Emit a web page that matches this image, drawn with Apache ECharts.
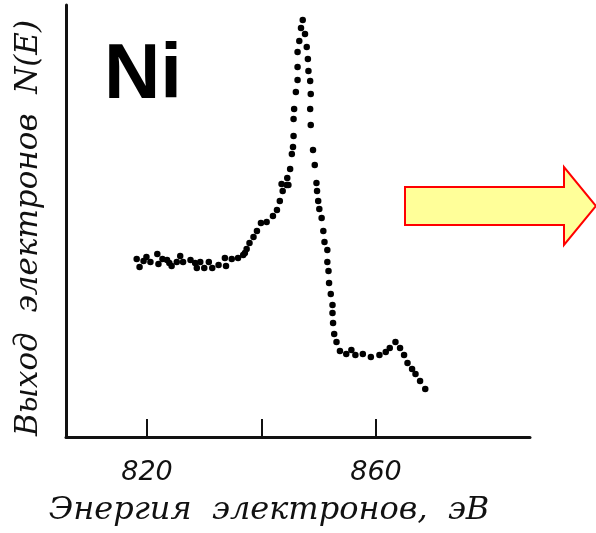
<!DOCTYPE html>
<html>
<head>
<meta charset="utf-8">
<script src="https://cdn.jsdelivr.net/npm/echarts@6.0.0/dist/echarts.min.js"></script>
<style>
html, body { margin: 0; padding: 0; background: #fff; }
#main { width: 596px; height: 533px; }
</style>
</head>
<body>
<div id="main"></div>
<script>
// энергия электронов, эВ
var energy = [
    818.2, 818.7, 819.4, 819.9, 820.6, 821.8, 822.0, 822.7, 823.5, 823.9,
    824.3, 825.2, 825.8, 826.3, 827.6, 828.4, 828.7, 829.3, 830.0, 830.8,
    831.4, 832.5, 833.6, 833.8, 834.8, 835.9, 836.8, 837.1, 837.4, 837.9,
    838.6, 839.2, 839.9, 840.9, 842.0, 842.7, 843.2, 843.7, 843.5, 844.4,
    844.5, 844.7, 845.0, 845.3, 845.5, 845.6, 845.6, 845.7, 846.0, 846.3,
    846.3, 846.3, 846.6, 846.9, 847.2,
    847.6, 847.9, 848.1, 848.2, 848.5, 848.6, 848.5, 848.6, 849.0, 849.3,
    849.6, 849.7, 849.9, 850.1, 850.5, 850.8, 851.0, 851.5, 851.5, 851.7,
    851.8, 852.1, 852.4, 852.4, 852.5, 852.7, 853.1, 853.7, 854.8, 855.7,
    856.4, 857.7, 859.1, 860.6, 861.7, 862.4, 863.4, 864.2, 864.9, 865.5,
    866.3, 866.9, 867.7, 868.6
];
// выход электронов N(E), усл. ед.
var yieldNE = [
    178, 170, 176, 180, 175, 183, 173, 178, 177, 174,
    171, 175, 181, 175, 177, 174, 169, 175, 169, 175,
    169, 172, 179, 171, 178, 179, 182, 184, 188, 194,
    200, 206, 214, 215, 221, 227, 236, 246, 253, 252,
    259, 252, 268, 283, 290, 301, 318, 328, 345, 357,
    370, 385, 396, 409, 417,
    403, 390, 378, 366, 356, 343, 328, 312, 287, 272,
    254, 246, 236, 228, 219, 206, 195, 187, 175, 166,
    154, 143, 132, 124, 114, 103, 95, 86, 83, 87,
    82, 83, 80, 82, 85, 89, 95, 89, 82, 74,
    68, 63, 56, 48
];
var tickValues = [820, 840, 860];
var labelValues = [820, 860];

var points = energy.map(function (e, i) {
    return [e, yieldNE[i]];
});

var chart = echarts.init(document.getElementById('main'));

var option = {
    backgroundColor: '#fff',
    animation: false,
    grid: {
        left: 66,
        right: 66,
        top: 5,
        bottom: 96
    },
    xAxis: {
        type: 'value',
        min: 805.85,
        max: 886.9,
        name: 'Энергия  электронов,  эВ',
        nameLocation: 'middle',
        nameGap: 58,
        nameTextStyle: {
            fontFamily: 'DejaVu Serif',
            fontStyle: 'italic',
            fontSize: 32,
            color: '#111',
            padding: [0, 58, 0, 0]
        },
        axisLine: {
            onZero: false,
            lineStyle: { color: '#111', width: 3 }
        },
        axisTick: {
            inside: true,
            length: 18,
            customValues: tickValues,
            lineStyle: { color: '#111', width: 2 }
        },
        axisLabel: {
            customValues: labelValues,
            margin: 22,
            fontFamily: 'DejaVu Sans',
            fontStyle: 'italic',
            fontSize: 27,
            color: '#111'
        },
        splitLine: { show: false }
    },
    yAxis: {
        type: 'value',
        min: 0,
        max: 432,
        name: 'Выход  электронов  N(E)',
        nameLocation: 'middle',
        nameRotate: 90,
        nameGap: 22,
        nameTextStyle: {
            fontFamily: 'DejaVu Serif',
            fontStyle: 'italic',
            fontSize: 31,
            color: '#111',
            padding: [0, 14, 0, 0]
        },
        axisLine: {
            show: true,
            lineStyle: { color: '#111', width: 3 }
        },
        axisTick: { show: false },
        axisLabel: { show: false },
        splitLine: { show: false }
    },
    series: [{
        type: 'scatter',
        data: points,
        symbolSize: 6.5,
        itemStyle: { color: '#000', opacity: 1 }
    }],
    graphic: [{
        type: 'text',
        left: 104,
        top: 37,
        style: {
            text: 'Ni',
            fontFamily: 'Liberation Sans',
            fontWeight: 'bold',
            fontSize: 78,
            fill: '#000'
        }
    }, {
        type: 'polygon',
        shape: {
            points: [[405, 187], [564, 187], [564, 167], [596, 206], [564, 245], [564, 225], [405, 225]]
        },
        style: {
            fill: '#ffff99',
            stroke: '#ff0000',
            lineWidth: 2
        }
    }]
};

chart.setOption(option);
</script>
</body>
</html>
